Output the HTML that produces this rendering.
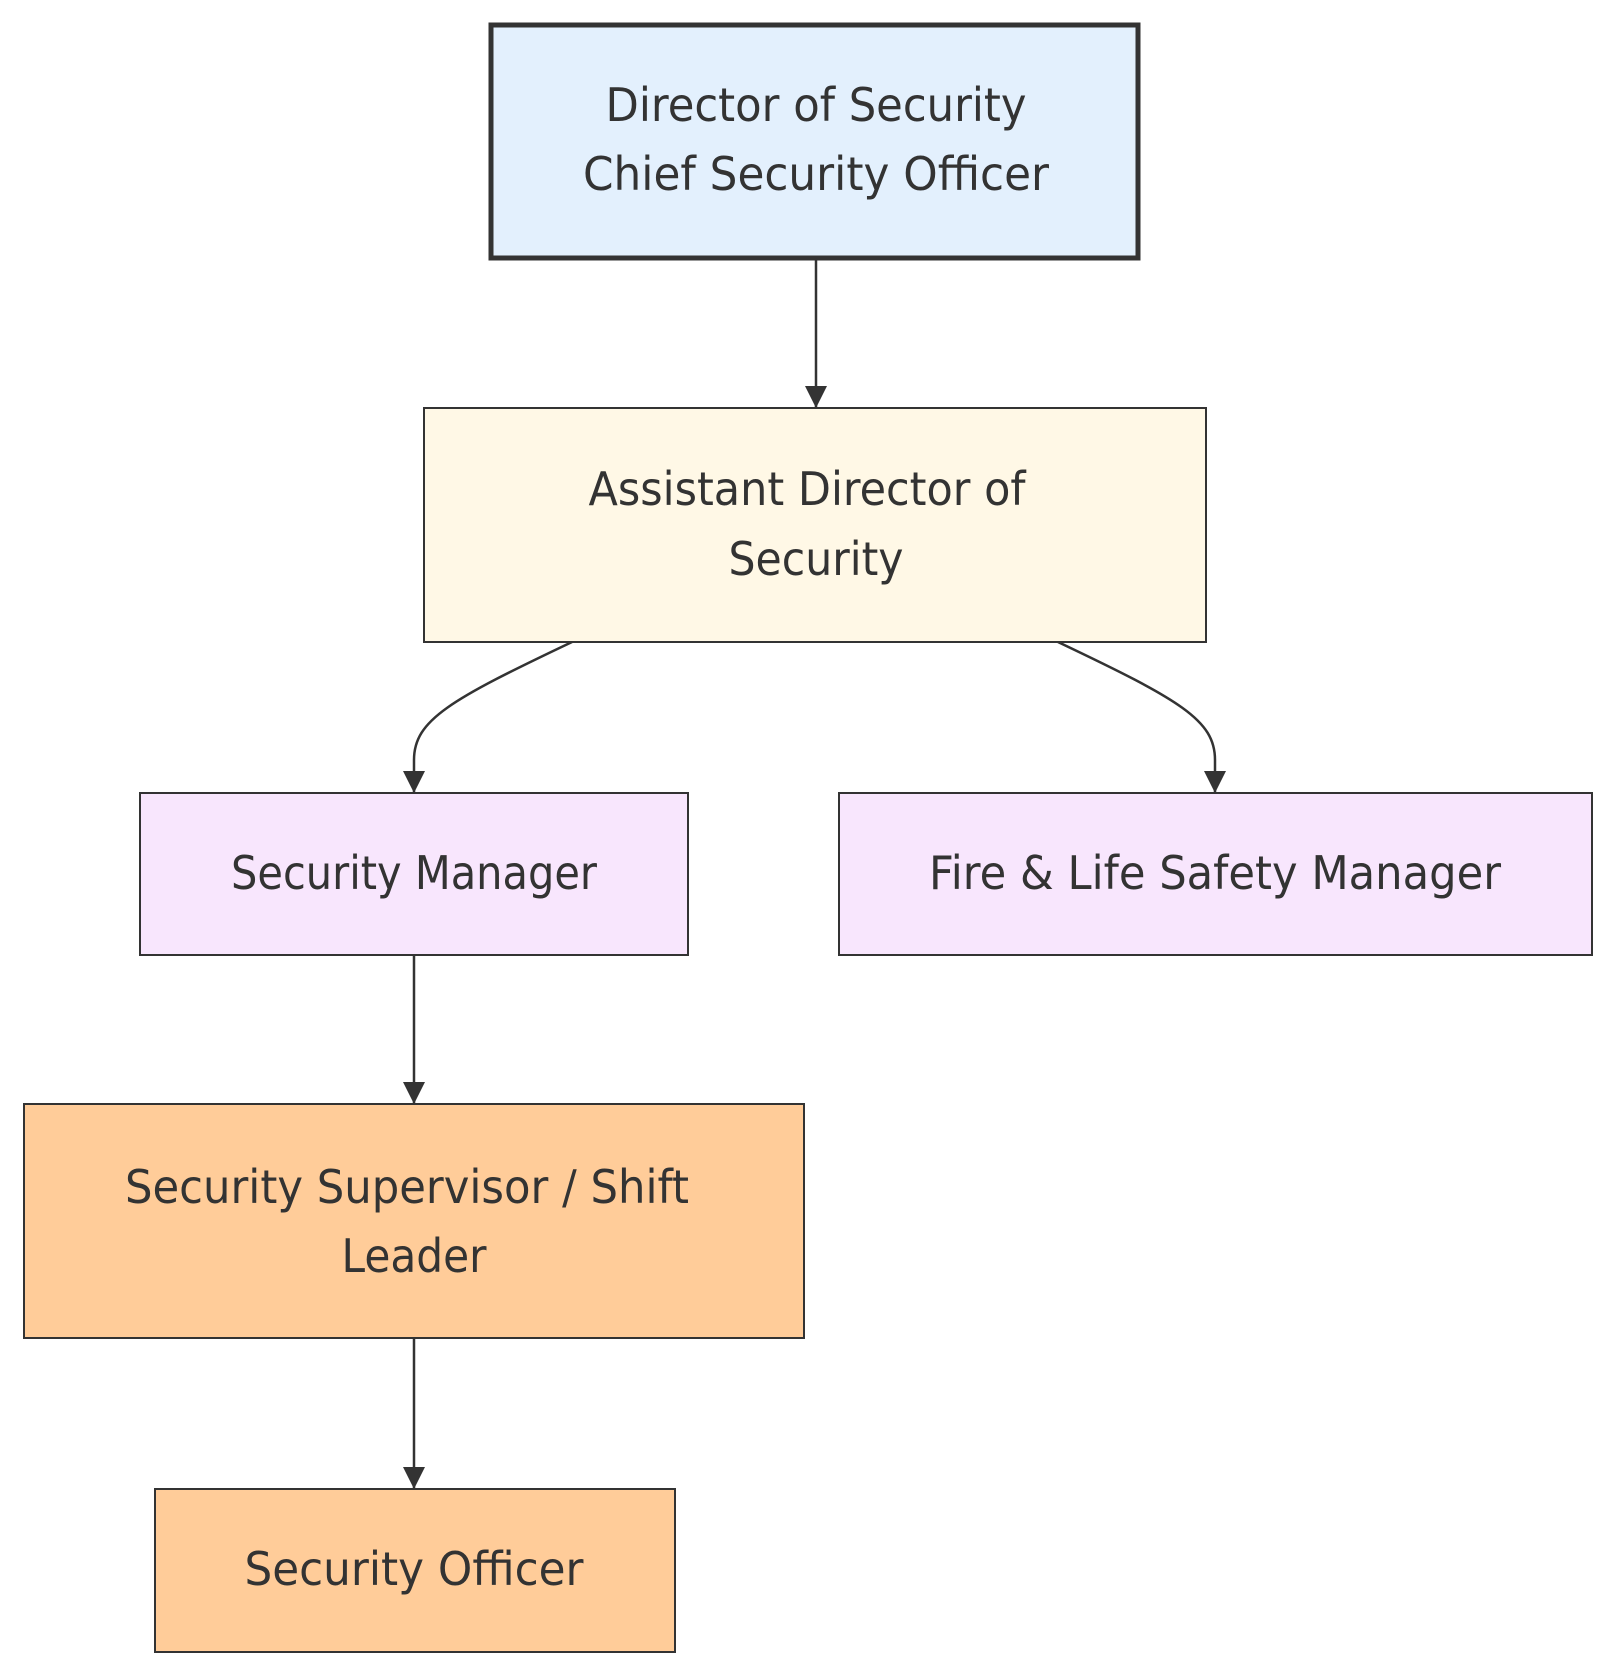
<!DOCTYPE html>
<html><head><meta charset="utf-8"><style>
html,body{margin:0;padding:0;background:#fff;}
svg text{font-family:"DejaVu Sans","Liberation Sans",sans-serif;font-size:46px;fill:#333;text-anchor:middle;dominant-baseline:central;}
</style></head><body>
<svg width="1614" height="1674" viewBox="0 0 1614 1674" xmlns="http://www.w3.org/2000/svg">
<defs><marker id="a" viewBox="0 0 22 22" refX="21" refY="11" markerWidth="22" markerHeight="22" orient="auto" markerUnits="userSpaceOnUse"><path d="M0,0 L22,11 L0,22 z" fill="#333"/></marker></defs>
<g fill="none" stroke="#333" stroke-width="2.5">
<path d="M816,260 L816,407" marker-end="url(#a)"/>
<path d="M572,642 C450,700 414,720 414,760 L414,792" marker-end="url(#a)"/>
<path d="M1058,642 C1180,700 1215,720 1215,760 L1215,792" marker-end="url(#a)"/>
<path d="M414,955 L414,1103" marker-end="url(#a)"/>
<path d="M414,1338 L414,1488" marker-end="url(#a)"/>
</g>
<rect x="491" y="25" width="647" height="233" fill="#e3f0fd" stroke="#333" stroke-width="5"/>
<rect x="424" y="408" width="782" height="234" fill="#fff8e6" stroke="#333" stroke-width="2"/>
<rect x="140" y="793" width="548" height="162" fill="#f8e6fd" stroke="#333" stroke-width="2"/>
<rect x="839" y="793" width="753" height="162" fill="#f8e6fd" stroke="#333" stroke-width="2"/>
<rect x="24" y="1104" width="780" height="234" fill="#ffcc99" stroke="#333" stroke-width="2"/>
<rect x="155" y="1489" width="520" height="163" fill="#ffcc99" stroke="#333" stroke-width="2"/>
<text x="816" y="105" textLength="421" lengthAdjust="spacingAndGlyphs">Director of Security</text>
<text x="816" y="174" textLength="466" lengthAdjust="spacingAndGlyphs">Chief Security Officer</text>
<text x="807" y="489" textLength="437" lengthAdjust="spacingAndGlyphs">Assistant Director of</text>
<text x="816" y="559" textLength="175" lengthAdjust="spacingAndGlyphs">Security</text>
<text x="414" y="873" textLength="366" lengthAdjust="spacingAndGlyphs">Security Manager</text>
<text x="1215" y="873" textLength="572" lengthAdjust="spacingAndGlyphs">Fire &amp; Life Safety Manager</text>
<text x="407" y="1187" textLength="564" lengthAdjust="spacingAndGlyphs">Security Supervisor / Shift</text>
<text x="414" y="1256" textLength="145" lengthAdjust="spacingAndGlyphs">Leader</text>
<text x="414" y="1569" textLength="339" lengthAdjust="spacingAndGlyphs">Security Officer</text>
</svg>
</body></html>
